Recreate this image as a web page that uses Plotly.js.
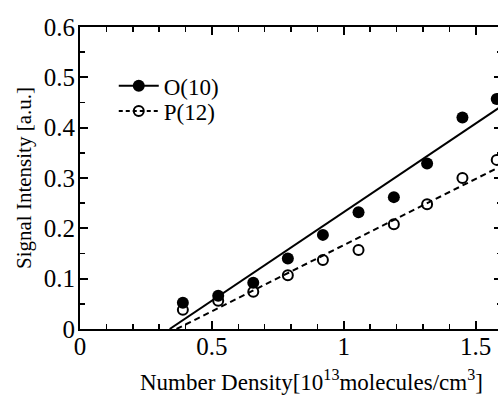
<!DOCTYPE html>
<html>
<head>
<meta charset="utf-8">
<script src="https://cdn.plot.ly/plotly-3.0.1.min.js"></script>
<style>
html,body{margin:0;padding:0;overflow:hidden;background:#fff;}
#chart{width:502px;height:395px;}
</style>
</head>
<body>
<div id="chart"></div>
<script>
// Data
const density = [0.39, 0.524, 0.657, 0.788, 0.921, 1.056, 1.19, 1.316, 1.45, 1.58];
const signalO10 = [0.052, 0.066, 0.092, 0.140, 0.187, 0.232, 0.262, 0.329, 0.420, 0.457];
const signalP12 = [0.038, 0.056, 0.074, 0.107, 0.137, 0.157, 0.208, 0.248, 0.300, 0.336];
// Linear fit lines (end points)
const fitO10X = [0.34, 1.6];
const fitO10Y = [0, 0.4435];
const fitP12X = [0.366, 1.6];
const fitP12Y = [0, 0.3245];
const seriesNames = ['O(10)', 'P(12)'];

const FONT = 'Liberation Serif, Times New Roman, serif';

const traces = [
  {x: fitO10X, y: fitO10Y, mode: 'lines', showlegend: false, hoverinfo: 'skip',
   line: {color: '#000', width: 2}},
  {x: fitP12X, y: fitP12Y, mode: 'lines', showlegend: false, hoverinfo: 'skip',
   line: {color: '#000', width: 2, dash: '6px,4px'}},
  {x: density, y: signalO10, mode: 'markers', showlegend: false,
   marker: {symbol: 'circle', size: 12, color: '#000'}},
  {x: density, y: signalP12, mode: 'markers', showlegend: false,
   marker: {symbol: 'circle-open', size: 10, color: '#000', line: {width: 2, color: '#000'}}},
  // legend entries (no data points)
  {x: [null], y: [null], mode: 'lines+markers', name: seriesNames[0], legend: 'legend',
   line: {color: '#000', width: 2}, marker: {symbol: 'circle', size: 12, color: '#000'}},
  {x: [null], y: [null], mode: 'lines+markers', name: seriesNames[1], legend: 'legend2',
   line: {color: '#000', width: 2, dash: '4px,3px'},
   marker: {symbol: 'circle-open', size: 10, color: '#000', line: {width: 2, color: '#000'}}}
];

const axisCommon = {
  showline: true, linecolor: '#000', linewidth: 2, mirror: 'ticks',
  ticks: 'inside', ticklen: 8, tickwidth: 2, tickcolor: '#000',
  showgrid: false, zeroline: false,
  tickfont: {family: FONT, size: 25, color: '#000'}
};

const legendCommon = {
  xanchor: 'left', yanchor: 'middle',
  bgcolor: 'rgba(0,0,0,0)', borderwidth: 0,
  font: {family: FONT, size: 23, color: '#000'},
  itemwidth: 40
};

const layout = {
  width: 502, height: 395,
  margin: {l: 80, r: 0, t: 27, b: 66},
  paper_bgcolor: '#fff', plot_bgcolor: '#fff',
  font: {family: FONT, color: '#000'},
  xaxis: Object.assign({}, axisCommon, {
    range: [0, 1.6], dtick: 0.5, tick0: 0, ticklabelstandoff: -6,
    minor: {dtick: 0.1, ticks: 'inside', ticklen: 5, tickwidth: 1.5, tickcolor: '#000'}
  }),
  yaxis: Object.assign({}, axisCommon, {
    range: [0, 0.6], dtick: 0.1, tick0: 0, ticklabelstandoff: -2,
    minor: {dtick: 0.05, ticks: 'inside', ticklen: 5, tickwidth: 1.5, tickcolor: '#000'},
    title: {text: 'Signal Intensity [a.u.]', font: {family: FONT, size: 21, color: '#000'}, standoff: 6}
  }),
  annotations: [{
    xref: 'paper', yref: 'paper', x: (311 - 80) / 421, y: -0.17,
    xanchor: 'center', yanchor: 'middle', showarrow: false,
    text: 'Number Density[10<sup>13</sup>molecules/cm<sup>3</sup>]',
    font: {family: FONT, size: 23, color: '#000'}
  }],
  legend: Object.assign({}, legendCommon, {x: 0.08, y: 0.805}),
  legend2: Object.assign({}, legendCommon, {x: 0.08, y: 0.722}),
  showlegend: true
};

Plotly.newPlot('chart', traces, layout, {displayModeBar: false, staticPlot: true});
</script>
</body>
</html>
